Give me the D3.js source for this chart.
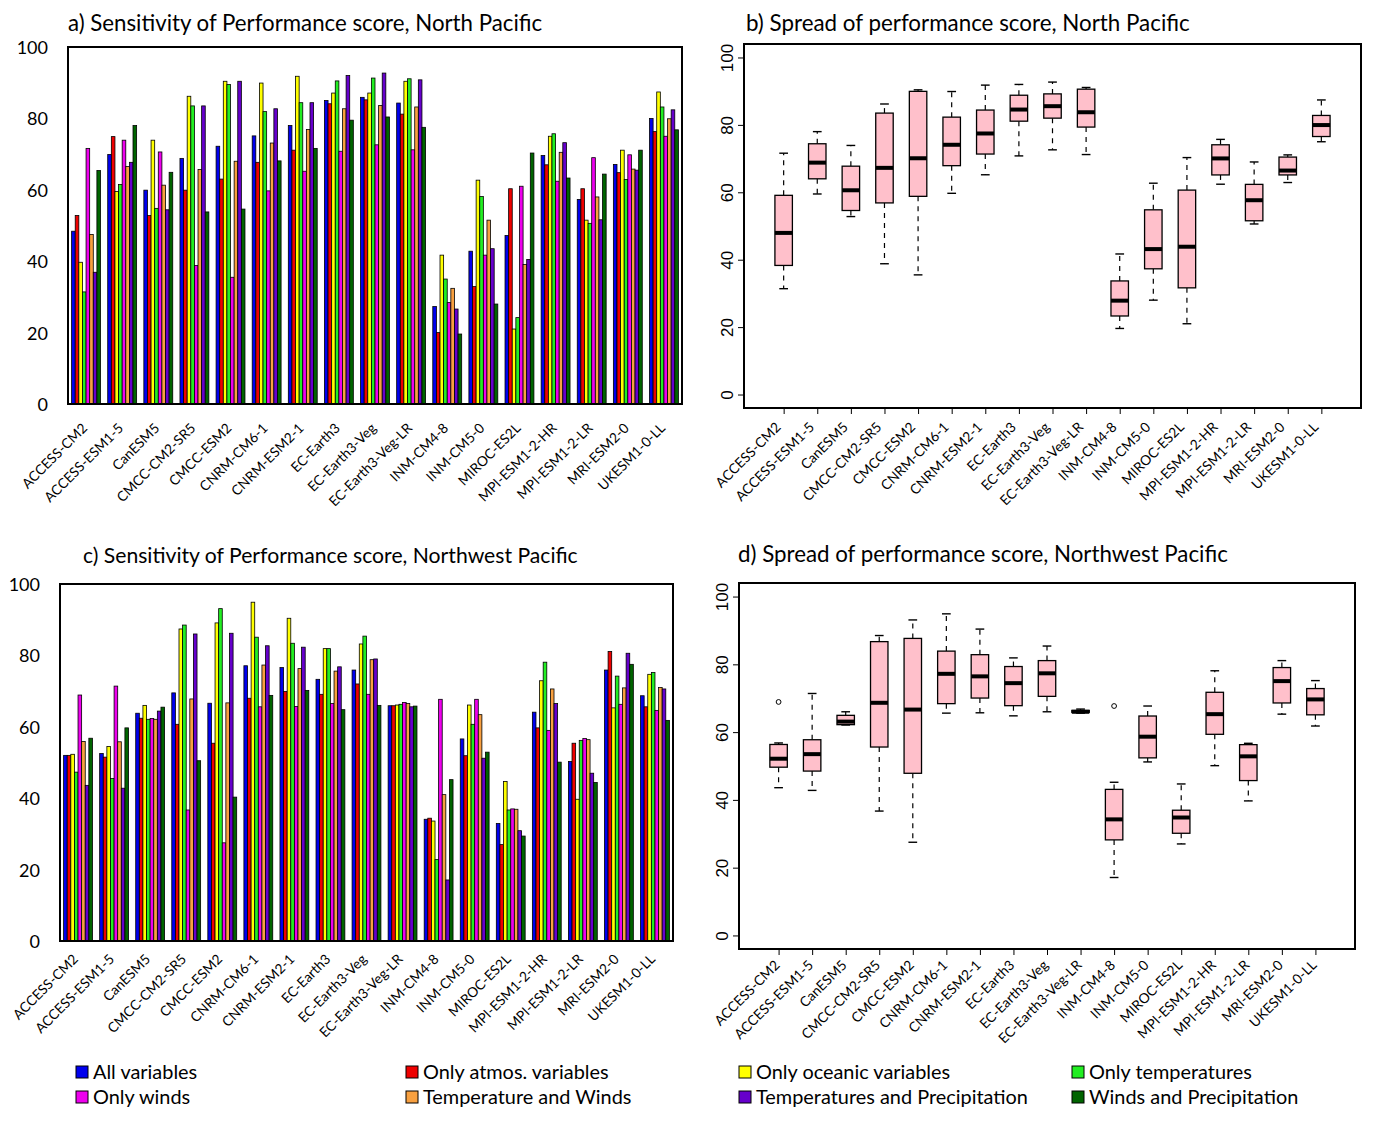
<!DOCTYPE html>
<html>
<head>
<meta charset="utf-8">
<script src="https://cdn.jsdelivr.net/npm/d3@7"></script>
<style>
  html, body { margin: 0; padding: 0; background: #fff; }
  svg { display: block; }
</style>
</head>
<body>
<svg id="chart" width="1379" height="1129"></svg>
<script>
// ---------------- DATA ----------------
const models = ["ACCESS-CM2","ACCESS-ESM1-5","CanESM5","CMCC-CM2-SR5","CMCC-ESM2","CNRM-CM6-1","CNRM-ESM2-1","EC-Earth3","EC-Earth3-Veg","EC-Earth3-Veg-LR","INM-CM4-8","INM-CM5-0","MIROC-ES2L","MPI-ESM1-2-HR","MPI-ESM1-2-LR","MRI-ESM2-0","UKESM1-0-LL"];
const seriesNames = ["All variables","Only atmos. variables","Only oceanic variables","Only temperatures","Only winds","Temperature and Winds","Temperatures and Precipitation","Winds and Precipitation"];
const seriesColors = ["#0000ee","#ee0000","#ffff00","#22ee22","#ee00ee","#f8a040","#6600cc","#006400"];
const yTicks = [0, 20, 40, 60, 80, 100];

// North Pacific (panel a, b) - one array per series, one value per model
const npAllVariables   = [48.4,69.9,59.9,68.8,72.2,75.1,78.0,85.0,85.9,84.3,27.3,42.8,47.2,69.6,57.3,67.1,80.0];
const npOnlyAtmos      = [52.8,74.9,52.8,59.9,63.0,67.7,71.1,84.1,85.2,81.2,20.0,32.9,60.3,67.0,60.3,64.8,76.3];
const npOnlyOceanic    = [39.7,59.5,73.9,86.2,90.4,89.9,91.8,87.1,87.1,90.4,41.7,62.7,21.0,75.0,51.5,71.1,87.4];
const npOnlyTemps      = [31.4,61.5,54.8,83.5,89.5,81.9,84.4,90.5,91.3,91.1,35.0,58.1,24.2,75.7,50.6,62.9,83.2];
const npOnlyWinds      = [71.6,73.9,70.6,38.8,35.5,59.7,65.2,70.8,72.6,71.2,28.4,41.7,61.0,62.4,69.0,69.8,75.0];
const npTempWinds      = [47.5,66.5,61.3,65.7,68.0,73.1,76.9,82.7,83.6,83.2,32.4,51.5,39.1,70.5,58.0,65.8,79.9];
const npTempPrecip     = [36.9,67.7,54.4,83.5,90.4,82.7,84.4,92.0,92.7,90.8,26.6,43.5,40.5,73.2,51.6,65.5,82.4];
const npWindsPrecip    = [65.4,78.0,64.9,53.8,54.6,68.1,71.6,79.5,80.4,77.5,19.6,28.0,70.3,63.3,64.4,71.1,76.8];

// Northwest Pacific (panel c, d)
const nwpAllVariables  = [52.0,52.5,63.8,69.5,66.6,77.1,76.6,73.3,75.9,65.9,34.1,56.6,32.9,64.1,50.3,75.9,68.7];
const nwpOnlyAtmos     = [52.0,51.5,62.4,60.7,55.4,68.0,69.9,69.1,72.0,65.9,34.4,51.9,27.0,59.7,55.4,81.1,65.6];
const nwpOnlyOceanic   = [52.3,54.5,66.0,87.4,89.1,94.9,90.4,81.9,83.2,66.1,33.6,66.1,44.7,72.9,39.7,65.3,74.7];
const nwpOnlyTemps     = [47.3,45.5,62.1,88.5,93.1,85.1,83.4,81.9,85.4,66.3,22.8,60.7,36.7,78.1,56.2,74.2,75.2];
const nwpOnlyWinds     = [68.9,71.4,62.3,36.7,27.5,65.6,65.7,66.5,69.1,66.8,67.7,67.7,37.0,59.0,56.7,66.3,64.6];
const nwpTempWinds     = [55.9,55.8,62.1,67.8,66.7,77.3,76.3,75.6,78.8,66.5,41.0,63.4,36.9,70.6,56.4,70.9,71.0];
const nwpTempPrecip    = [43.6,42.8,64.4,86.0,86.2,82.7,82.3,76.8,79.0,65.6,17.1,51.2,30.9,66.5,47.0,80.6,70.6];
const nwpWindsPrecip   = [56.8,59.7,65.5,50.5,40.3,68.8,70.2,64.8,66.0,65.8,45.2,52.9,29.4,50.1,44.4,77.5,61.8];

const npSeries  = [npAllVariables,npOnlyAtmos,npOnlyOceanic,npOnlyTemps,npOnlyWinds,npTempWinds,npTempPrecip,npWindsPrecip];
const nwpSeries = [nwpAllVariables,nwpOnlyAtmos,nwpOnlyOceanic,nwpOnlyTemps,nwpOnlyWinds,nwpTempWinds,nwpTempPrecip,nwpWindsPrecip];

// ---------------- DRAWING ----------------
const svg = d3.select("#chart");
const FONT = "Lato, 'Open Sans', sans-serif";
const RFONT = "'Liberation Sans', Arial, sans-serif";
const XLABEL_SIZE = 13.8;

function fitTitle(x, y, text, targetWidth) {
  const t = svg.append("text").attr("x", x).attr("y", y)
    .attr("font-family", FONT).attr("font-size", 20).attr("fill", "#000").text(text);
  const w = t.node().getComputedTextLength();
  t.attr("font-size", (20 * targetWidth / w).toFixed(2));
}

function barPanel(seriesArr, box, labelOffset) {
  const g = svg.append("g");
  const x0 = d3.scaleBand().domain(models).range([box.x0, box.x1]).paddingInner(0.2).paddingOuter(0.1);
  const x1 = d3.scaleBand().domain(d3.range(seriesArr.length)).range([0, x0.bandwidth()]);
  const y = d3.scaleLinear().domain([0, 100]).range([box.y1, box.y0]);

  const rows = models.map((m, i) => ({ model: m, vals: seriesArr.map((s, k) => ({ k, v: s[i] })) }));
  const grp = g.selectAll("g.grp").data(rows).join("g").attr("class", "grp")
    .attr("transform", d => `translate(${x0(d.model)},0)`);
  grp.selectAll("rect").data(d => d.vals).join("rect")
    .attr("x", d => x1(d.k)).attr("width", x1.bandwidth())
    .attr("y", d => y(d.v)).attr("height", d => y(0) - y(d.v))
    .attr("fill", d => seriesColors[d.k]).attr("stroke", "#000").attr("stroke-width", 0.8);

  // frame
  g.append("rect").attr("x", box.x0).attr("y", box.y0)
    .attr("width", box.x1 - box.x0).attr("height", box.y1 - box.y0)
    .attr("fill", "none").attr("stroke", "#000").attr("stroke-width", 2);

  // y axis labels only
  const ay = g.append("g").attr("transform", `translate(${box.x0},0)`)
    .call(d3.axisLeft(y).tickValues(yTicks).tickSize(0).tickPadding(20).tickFormat(d3.format("d")));
  ay.select(".domain").remove();
  ay.selectAll("text").attr("font-family", FONT).attr("font-size", 18).attr("fill", "#000").attr("dy", "0.36em");

  // x labels rotated
  g.selectAll("text.xl").data(models).join("text").attr("class", "xl")
    .attr("transform", d => `translate(${x0(d) + x0.bandwidth() / 2 + labelOffset.dx},${box.y1 + labelOffset.dy}) rotate(-45)`)
    .attr("text-anchor", "end").attr("font-family", FONT).attr("font-size", XLABEL_SIZE).attr("fill", "#000")
    .text(d => d);
}

function fivenum(arr) {
  const x = arr.slice().sort((a, b) => a - b);
  const n = x.length;
  const n4 = Math.floor((n + 3) / 2) / 2;
  const d = [1, n4, (n + 1) / 2, n + 1 - n4, n];
  return d.map(v => 0.5 * (x[Math.floor(v) - 1] + x[Math.ceil(v) - 1]));
}
function boxStats(arr) {
  const f = fivenum(arr);
  const iqr = f[3] - f[1];
  const lo = f[1] - 1.5 * iqr, hi = f[3] + 1.5 * iqr;
  const inside = arr.filter(v => v >= lo && v <= hi);
  return { q1: f[1], med: f[2], q3: f[3], wlo: d3.min(inside), whi: d3.max(inside),
           out: arr.filter(v => v < lo || v > hi) };
}

function boxPanel(seriesArr, box, labelOffset) {
  const g = svg.append("g");
  const n = models.length;
  const pad = 0.04 * n;
  const x = d3.scaleLinear().domain([0.5 - pad, n + 0.5 + pad]).range([box.x0, box.x1]);
  const y = d3.scaleLinear().domain([-4, 104]).range([box.y1, box.y0]);
  const bw = (x(1.52) - x(1));
  const stats = models.map((m, i) => Object.assign({ i: i + 1, model: m }, boxStats(seriesArr.map(s => s[i]))));

  const b = g.selectAll("g.bx").data(stats).join("g").attr("class", "bx");
  // whiskers
  b.append("line").attr("x1", d => x(d.i)).attr("x2", d => x(d.i))
    .attr("y1", d => y(d.q3)).attr("y2", d => y(d.whi))
    .attr("stroke", "#000").attr("stroke-width", 1.2).attr("stroke-dasharray", "5,5");
  b.append("line").attr("x1", d => x(d.i)).attr("x2", d => x(d.i))
    .attr("y1", d => y(d.q1)).attr("y2", d => y(d.wlo))
    .attr("stroke", "#000").attr("stroke-width", 1.2).attr("stroke-dasharray", "5,5");
  // staples
  ["whi", "wlo"].forEach(k => {
    b.append("line").attr("x1", d => x(d.i) - bw / 4).attr("x2", d => x(d.i) + bw / 4)
      .attr("y1", d => y(d[k])).attr("y2", d => y(d[k]))
      .attr("stroke", "#000").attr("stroke-width", 1.4);
  });
  // box
  b.append("rect").attr("x", d => x(d.i) - bw / 2).attr("width", bw)
    .attr("y", d => y(d.q3)).attr("height", d => Math.max(0.5, y(d.q1) - y(d.q3)))
    .attr("fill", "#ffc0cb").attr("stroke", "#000").attr("stroke-width", 1.3);
  // median
  b.append("line").attr("x1", d => x(d.i) - bw / 2).attr("x2", d => x(d.i) + bw / 2)
    .attr("y1", d => y(d.med)).attr("y2", d => y(d.med))
    .attr("stroke", "#000").attr("stroke-width", 4);
  // outliers
  b.selectAll("circle").data(d => d.out.map(v => ({ i: d.i, v }))).join("circle")
    .attr("cx", d => x(d.i)).attr("cy", d => y(d.v)).attr("r", 2.4)
    .attr("fill", "none").attr("stroke", "#000").attr("stroke-width", 1);

  // frame
  g.append("rect").attr("x", box.x0).attr("y", box.y0)
    .attr("width", box.x1 - box.x0).attr("height", box.y1 - box.y0)
    .attr("fill", "none").attr("stroke", "#000").attr("stroke-width", 2);

  // y axis (R style, labels parallel to axis)
  const ay = g.append("g").attr("transform", `translate(${box.x0},0)`)
    .call(d3.axisLeft(y).tickValues(yTicks).tickSize(6).tickFormat(d3.format("d")));
  ay.select(".domain").remove();
  ay.selectAll("line").attr("stroke", "#000").attr("stroke-width", 1);
  ay.selectAll("text").attr("transform", "rotate(-90)").attr("x", 0).attr("y", -11).attr("dy", 0)
    .attr("text-anchor", "middle").attr("font-family", RFONT).attr("font-size", 17).attr("fill", "#000");

  // x ticks
  const ax = g.append("g").attr("transform", `translate(0,${box.y1})`)
    .call(d3.axisBottom(x).tickValues(d3.range(1, n + 1)).tickSize(6).tickFormat(""));
  ax.select(".domain").remove();
  ax.selectAll("line").attr("stroke", "#000").attr("stroke-width", 1);

  g.selectAll("text.xl").data(stats).join("text").attr("class", "xl")
    .attr("transform", d => `translate(${x(d.i) + labelOffset.dx},${box.y1 + labelOffset.dy}) rotate(-45)`)
    .attr("text-anchor", "end").attr("font-family", FONT).attr("font-size", XLABEL_SIZE).attr("fill", "#000")
    .text(d => d.model);
}

// Panels
barPanel(npSeries,  { x0: 68, x1: 682, y0: 47, y1: 404 }, { dx: 2, dy: 25 });
boxPanel(npSeries,  { x0: 744, x1: 1361, y0: 44, y1: 408 }, { dx: -2, dy: 20 });
barPanel(nwpSeries, { x0: 60, x1: 673, y0: 584, y1: 941 }, { dx: 1, dy: 19 });
boxPanel(nwpSeries, { x0: 739, x1: 1355, y0: 583, y1: 949 }, { dx: 2, dy: 17 });

fitTitle(68, 31, "a) Sensitivity of Performance score, North Pacific", 474);
fitTitle(746, 31, "b) Spread of performance score, North Pacific", 444);
fitTitle(83, 563, "c) Sensitivity of Performance score, Northwest Pacific", 495);
fitTitle(738, 562, "d) Spread of performance score, Northwest Pacific", 490);

// Legend
const legendPos = [
  { x: 76, y: 1066 }, { x: 406, y: 1066 }, { x: 739, y: 1066 }, { x: 1072, y: 1066 },
  { x: 76, y: 1091 }, { x: 406, y: 1091 }, { x: 739, y: 1091 }, { x: 1072, y: 1091 }
];
const legendOrder = [0, 1, 2, 3, 4, 5, 6, 7];
const lg = svg.append("g").selectAll("g").data(legendOrder).join("g")
  .attr("transform", (d, i) => `translate(${legendPos[i].x},${legendPos[i].y})`);
lg.append("rect").attr("width", 12).attr("height", 12)
  .attr("fill", d => seriesColors[d]).attr("stroke", "#000").attr("stroke-width", 1);
lg.append("text").attr("x", 17).attr("y", 12.5).attr("font-family", FONT).attr("font-size", 19.9)
  .attr("fill", "#000").text(d => seriesNames[d]);
</script>
</body>
</html>
